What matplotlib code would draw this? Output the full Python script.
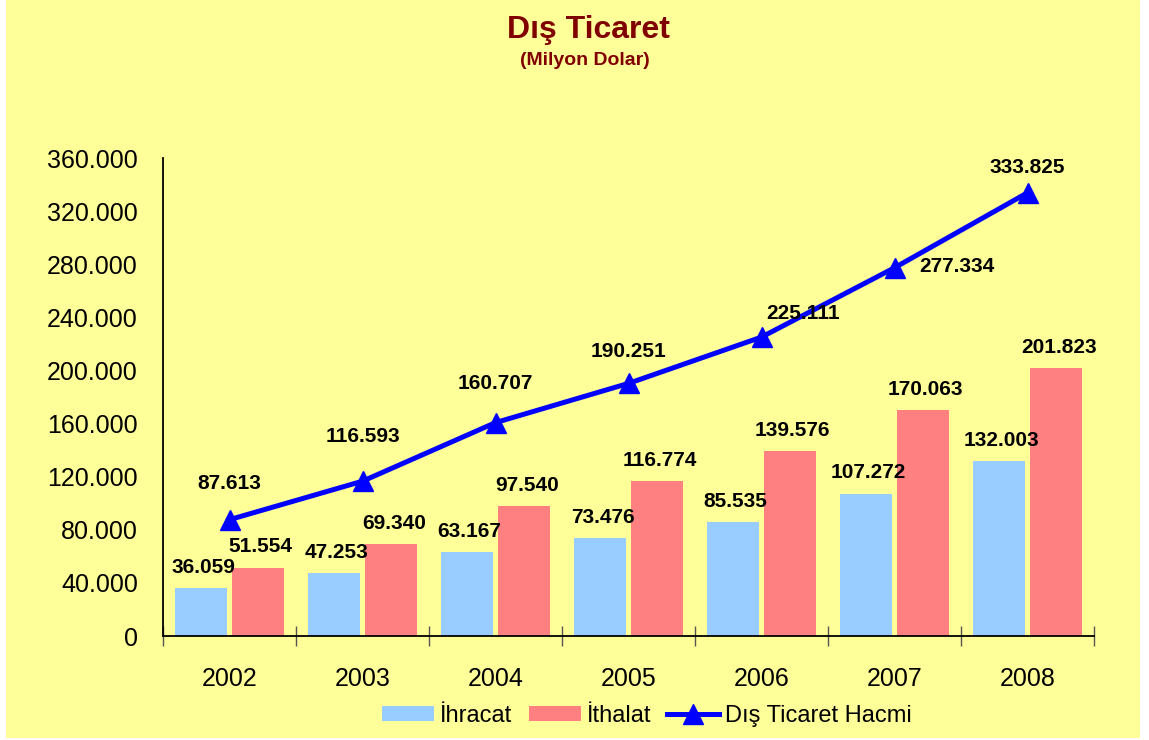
import matplotlib.pyplot as plt
import numpy as np
from matplotlib.patches import Rectangle, Patch
from matplotlib.lines import Line2D

plt.rcParams['font.family'] = ['Liberation Sans', 'DejaVu Sans']

# Data (milyon dolar)
years = ['2002', '2003', '2004', '2005', '2006', '2007', '2008']
ihracat = [36059, 47253, 63167, 73476, 85535, 107272, 132003]
ithalat = [51554, 69340, 97540, 116774, 139576, 170063, 201823]
hacim = [87613, 116593, 160707, 190251, 225111, 277334, 333825]

# label offsets for the line values (points)
hacim_offsets = [(0, 26), (0, 32), (0, 28), (0, 23), (30, 17), (45, 1), (0, 18)]

def fmt(v):
    return f'{v:,}'.replace(',', '.')

bg = '#FFFF99'
fig = plt.figure(figsize=(11.49, 7.4), dpi=100, facecolor='white')
fig.patches.append(Rectangle((6 / 1149, 2 / 740), 1134 / 1149, 738 / 740,
                             transform=fig.transFigure, facecolor=bg,
                             edgecolor='none', zorder=-10))

ax = fig.add_axes([163 / 1149, 104 / 740, 931 / 1149, 478 / 740])
ax.set_facecolor(bg)

x = np.arange(len(years))
width = 0.39
off = 0.215
b1 = ax.bar(x - off, ihracat, width, color='#99CCFF', zorder=2)
b2 = ax.bar(x + off, ithalat, width, color='#FF8080', zorder=2)
ax.plot(x, hacim, color='#0000FF', lw=3.6, marker='^', markersize=15, zorder=3)

for rect, v in zip(b1, ihracat):
    ax.annotate(fmt(v), (rect.get_x() + rect.get_width() / 2, v), xytext=(2, 8),
                textcoords='offset points', ha='center', va='bottom',
                fontsize=15, fontweight='bold', zorder=5)
for rect, v in zip(b2, ithalat):
    ax.annotate(fmt(v), (rect.get_x() + rect.get_width() / 2, v), xytext=(2, 8),
                textcoords='offset points', ha='center', va='bottom',
                fontsize=15, fontweight='bold', zorder=5)
for xi, v, o in zip(x, hacim, hacim_offsets):
    ax.annotate(fmt(v), (xi, v), xytext=o, textcoords='offset points',
                ha='center', va='center', fontsize=15, fontweight='bold', zorder=5)

ax.set_xlim(-0.5, len(years) - 0.5)
ax.set_ylim(0, 360000)
ax.set_yticks(np.arange(0, 360001, 40000))
ax.set_yticklabels([fmt(v) for v in range(0, 360001, 40000)], fontsize=18)
ax.tick_params(axis='y', length=0, pad=18)

ax.set_xticks(x)
ax.set_xticklabels(years, fontsize=18)
ax.tick_params(axis='x', which='major', length=0, pad=22)
ax.set_xticks(np.arange(-0.5, len(years)), minor=True)
ax.tick_params(axis='x', which='minor', direction='inout', length=14, width=1, color='#555555')

for s in ['top', 'right']:
    ax.spines[s].set_visible(False)
ax.spines['left'].set_linewidth(1.3)
ax.spines['bottom'].set_linewidth(1.3)

fig.text(588 / 1149, 1 - 38 / 740, 'Dış Ticaret', ha='center', va='baseline',
         fontsize=23, fontweight='bold', color='#800000')
fig.text(585 / 1149, 1 - 65 / 740, '(Milyon Dolar)', ha='center', va='baseline',
         fontsize=14, fontweight='bold', color='#800000')

handles = [Patch(facecolor='#99CCFF'), Patch(facecolor='#FF8080'),
           Line2D([], [], color='#0000FF', lw=3.6, marker='^', markersize=15)]
fig.legend(handles, ['İhracat', 'İthalat', 'Dış Ticaret Hacmi'], ncol=3,
           loc='center', bbox_to_anchor=(647 / 1149, 1 - 716 / 740), frameon=False,
           fontsize=17, handlelength=2.2, handleheight=0.6, handletextpad=0.25,
           columnspacing=0.7)

fig.savefig('out.png', dpi=100, facecolor='white')
